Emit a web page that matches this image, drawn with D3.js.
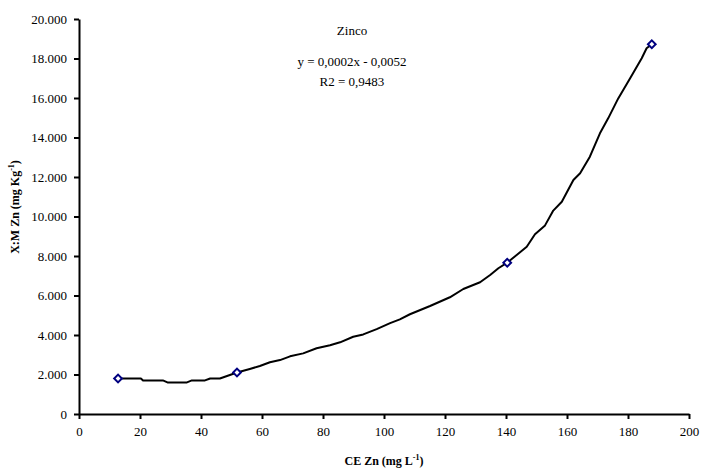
<!DOCTYPE html>
<html>
<head>
<meta charset="utf-8">
<script src="https://cdn.jsdelivr.net/npm/d3@7"></script>
<style>
  body { margin: 0; background: #fff; }
  text { font-family: "Liberation Serif", "Times New Roman", serif; fill: #000; }
</style>
</head>
<body>
<div id="chart"></div>
<script>
// curve values (CE Zn, X:M Zn)
var ceZn = [12.8, 17.7, 20.3, 21, 27.5, 29, 35.4, 37, 41.3, 43, 46.2, 49, 51.8, 56, 59.3,
  62.6, 65.9, 69.2, 73.5, 77.9, 82.3, 85.6, 89.9, 93.2, 97.6, 102, 105.2, 108.5, 115.1,
  121.6, 126, 131.5, 134.8, 137.5, 140.4, 143.5, 146.8, 149.5, 152.8, 155.5, 158.3,
  162.1, 164.3, 167.5, 170.8, 173.5, 176.8, 180.7, 184.5, 186.1, 187.8];
var xmZn = [1800, 1800, 1800, 1700, 1700, 1600, 1600, 1700, 1700, 1800, 1800, 1950, 2100,
  2280, 2430, 2620, 2730, 2920, 3070, 3330, 3480, 3630, 3910, 4030, 4300, 4600, 4790,
  5050, 5470, 5910, 6330, 6670, 7040, 7380, 7660, 8050, 8470, 9100, 9550, 10300, 10750,
  11850, 12190, 13030, 14210, 14970, 15980, 17000, 18010, 18520, 18720];

// measured points (markers)
var ptX = [12.8, 51.8, 140.4, 187.8];
var ptY = [1800, 2100, 7660, 18720];

var xTicks = [0, 20, 40, 60, 80, 100, 120, 140, 160, 180, 200];
var yTicks = [0, 2000, 4000, 6000, 8000, 10000, 12000, 14000, 16000, 18000, 20000];

var annotation = ["Zinco", "y = 0,0002x - 0,0052", "R2 = 0,9483"];

var W = 703, H = 471;
var serif = "Liberation Serif, Times New Roman, serif";

var svg = d3.select("#chart")
    .append("svg")
    .attr("width", W)
    .attr("height", H);

var x = d3.scaleLinear().domain([0, 200]).range([79, 689]);
var y = d3.scaleLinear().domain([0, 20000]).range([414, 19]);

var br = d3.formatLocale({decimal: ",", thousands: ".", grouping: [3], currency: ["", ""]});
var fmt = br.format(",.0f");

// y axis
var yAxis = svg.append("g")
    .attr("transform", "translate(79,0)")
    .call(d3.axisLeft(y).tickValues(yTicks).tickFormat(fmt).tickSize(5).tickSizeOuter(0).tickPadding(7));
yAxis.attr("font-family", serif).attr("font-size", 13);

// x axis
var xAxis = svg.append("g")
    .attr("transform", "translate(0,414)")
    .call(d3.axisBottom(x).tickValues(xTicks).tickFormat(d3.format("d")).tickSize(5).tickSizeOuter(0).tickPadding(8));
xAxis.attr("font-family", serif).attr("font-size", 13);

svg.selectAll(".domain, .tick line")
    .attr("stroke", "#000")
    .attr("stroke-width", 2);

// curve
var lineData = ceZn.map(function(d, i) { return [d, xmZn[i]]; });
var line = d3.line()
    .x(function(d) { return x(d[0]); })
    .y(function(d) { return y(d[1]); });

svg.append("path")
    .datum(lineData)
    .attr("fill", "none")
    .attr("stroke", "#000")
    .attr("stroke-width", 2)
    .attr("stroke-linejoin", "round")
    .attr("d", line);

// diamond markers
var diamond = d3.symbol().type(d3.symbolSquare).size(30);
svg.selectAll(".pt")
    .data(ptX.map(function(d, i) { return [d, ptY[i]]; }))
    .enter()
    .append("path")
    .attr("class", "pt")
    .attr("d", diamond)
    .attr("transform", function(d) { return "translate(" + x(d[0]) + "," + y(d[1]) + ") rotate(45)"; })
    .attr("fill", "#fff")
    .attr("stroke", "#000080")
    .attr("stroke-width", 2);

// annotation text
svg.selectAll(".ann")
    .data(annotation)
    .enter()
    .append("text")
    .attr("class", "ann")
    .attr("x", 352)
    .attr("y", function(d, i) { return [35, 66, 86][i]; })
    .attr("text-anchor", "middle")
    .style("font-size", "13px")
    .text(String);

// axis titles
var xt = svg.append("text")
    .attr("x", 384)
    .attr("y", 465)
    .attr("text-anchor", "middle")
    .style("font-size", "12px")
    .style("font-weight", "bold");
xt.append("tspan").text("CE Zn (mg L");
xt.append("tspan").attr("dy", -5).style("font-size", "8px").text("-1");
xt.append("tspan").attr("dy", 5).text(")");

var yt = svg.append("text")
    .attr("transform", "translate(19,207) rotate(-90)")
    .attr("text-anchor", "middle")
    .style("font-size", "12px")
    .style("font-weight", "bold");
yt.append("tspan").text("X:M Zn (mg Kg");
yt.append("tspan").attr("dy", -5).style("font-size", "8px").text("-1");
yt.append("tspan").attr("dy", 5).text(")");
</script>
</body>
</html>
